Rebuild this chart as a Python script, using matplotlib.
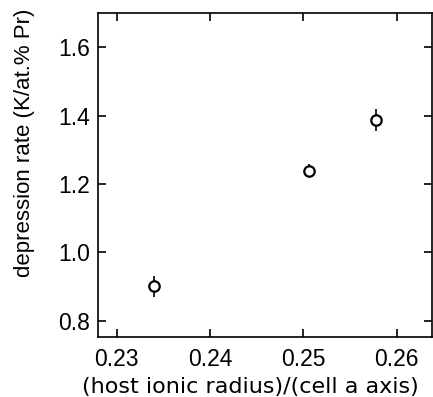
import matplotlib
matplotlib.use("Agg")
import matplotlib.pyplot as plt

# data
ratio = [0.2340, 0.2506, 0.2578]
rate = [0.900, 1.239, 1.388]
rate_err = [0.030, 0.018, 0.032]

xticks = [0.23, 0.24, 0.25, 0.26]
yticks = [0.8, 1.0, 1.2, 1.4, 1.6]

plt.rcParams['font.family'] = ['Liberation Sans', 'DejaVu Sans']

fig = plt.figure(figsize=(4.33, 3.97), dpi=100)
ax = fig.add_axes([0.2263, 0.1511, 0.7714, 0.8162])

ax.errorbar(ratio, rate, yerr=rate_err, fmt='o', mfc='white', mec='black',
            ecolor='black', ms=7.5, mew=1.6, elinewidth=1.2, capsize=0)

ax.set_xlim(0.228, 0.2638)
ax.set_ylim(0.752, 1.70)
ax.set_xticks(xticks)
ax.set_xticklabels(['%.2f' % v for v in xticks])
ax.set_yticks(yticks)
ax.set_yticklabels(['%.1f' % v for v in yticks])

ax.tick_params(direction='in', top=True, right=True, length=6, width=1.2,
               labelsize=16.5)
ax.tick_params(axis='x', pad=8)
ax.tick_params(axis='y', pad=6)
for s in ax.spines.values():
    s.set_linewidth(1.2)

ax.set_ylabel('depression rate (K/at.% Pr)', fontsize=16, va='center')
ax.yaxis.set_label_coords(-0.22, 0.6)
ax.set_xlabel('(host ionic radius)/(cell a axis)', fontsize=16,
              family=['DejaVu Sans'], va='center')
ax.xaxis.set_label_coords(0.455, -0.153)

fig.savefig('out.png', dpi=100)
